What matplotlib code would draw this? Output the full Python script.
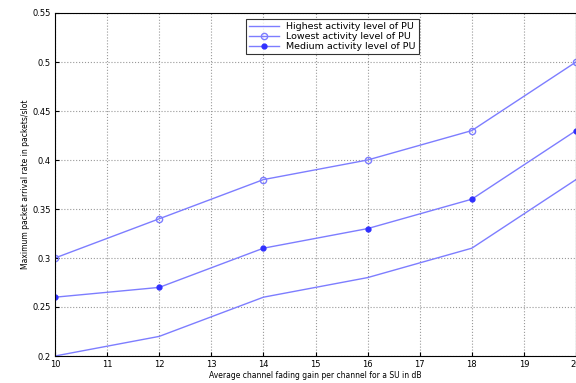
import numpy as np
import matplotlib
matplotlib.use('Agg')
import matplotlib.pyplot as plt

gain_db = [10, 12, 14, 16, 18, 20]
highest = [0.20, 0.22, 0.26, 0.28, 0.31, 0.38]
lowest = [0.30, 0.34, 0.38, 0.40, 0.43, 0.50]
medium = [0.26, 0.27, 0.31, 0.33, 0.36, 0.43]

line_col = '#7d7dff'

fig = plt.figure(figsize=(5.76, 3.83), dpi=100)
ax = fig.add_axes([55 / 576, 1 - 356 / 383, 521 / 576, 343 / 383])

ax.plot(gain_db, highest, color=line_col, lw=1.0, label='Highest activity level of PU')
ax.plot(gain_db, lowest, color=line_col, lw=1.0, marker='o', ms=4.5, mfc='none',
        mec=line_col, label='Lowest activity level of PU')
ax.plot(gain_db, medium, color=line_col, lw=1.0, marker='.', ms=7,
        mfc='#3030ff', mec='#3030ff', label='Medium activity level of PU')

ax.set_xlim(10, 20)
ax.set_ylim(0.2, 0.55)
ax.set_xticks(range(10, 21))
ax.set_yticks([0.2, 0.25, 0.3, 0.35, 0.4, 0.45, 0.5, 0.55])
ax.set_yticklabels(['0.2', '0.25', '0.3', '0.35', '0.4', '0.45', '0.5', '0.55'])
ax.grid(True, linestyle=':', color='#999999', lw=0.8)
ax.tick_params(labelsize=6, direction='in', length=3, pad=3)
for s in ax.spines.values():
    s.set_linewidth(0.8)

ax.set_xlabel('Average channel fading gain per channel for a SU in dB', fontsize=5.5, labelpad=1)
ax.set_ylabel('Maximum packet arrival rate in packets/slot', fontsize=5.5, labelpad=2)

leg = ax.legend(loc='upper center', bbox_to_anchor=(0.532, 0.99), fontsize=6.8,
                frameon=True, fancybox=False, edgecolor='black', borderpad=0.3,
                labelspacing=0.1, handlelength=3.2, borderaxespad=0.3)
leg.get_frame().set_linewidth(0.8)

fig.savefig('out.png', dpi=100)
